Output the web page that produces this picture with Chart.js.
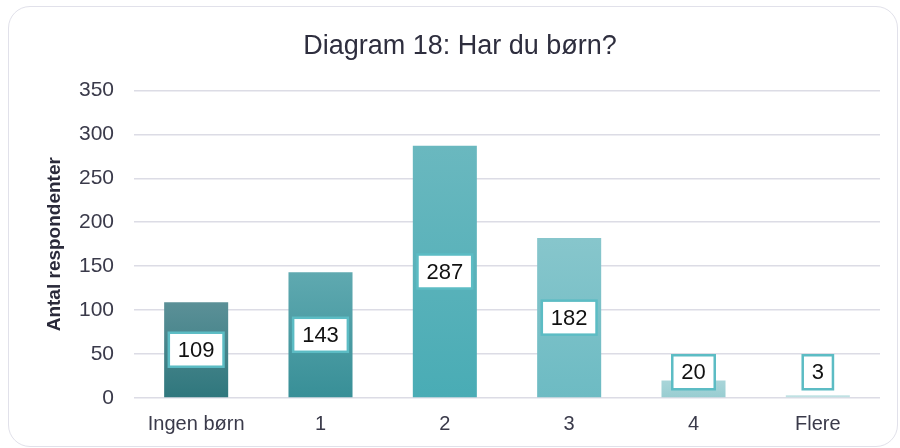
<!DOCTYPE html>
<html>
<head>
<meta charset="utf-8">
<script src="https://cdn.jsdelivr.net/npm/chart.js@4"></script>
<style>
  html, body { margin: 0; padding: 0; background: #ffffff; }
  #wrap { position: relative; width: 900px; height: 448px; overflow: hidden; }
  #card { position: absolute; left: 8px; top: 6px; width: 890px; height: 441px;
          border: 1.5px solid #e1e1ea; border-radius: 22px; box-sizing: border-box; }
  canvas { position: absolute; left: 0; top: 0; }
</style>
</head>
<body>
<div id="wrap">
  <div id="card"></div>
  <canvas id="c" width="900" height="448"></canvas>
</div>
<script>
const titleText = "Diagram 18: Har du børn?";
const axisTitle = "Antal respondenter";
const categories = ["Ingen børn", "1", "2", "3", "4", "Flere"];
const values = [109, 143, 287, 182, 20, 3];
const yTicks = [0, 50, 100, 150, 200, 250, 300, 350];
const colorsTop = ["#5b9097", "#5fa9b0", "#6ab8bf", "#87c6cc", "#a9d5d9", "#c4e3e5"];
const colorsBottom = ["#2f777d", "#388f97", "#49acb5", "#6dbbc3", "#98cdd1", "#b9dfe1"];

const labelPlugin = {
  id: "boxLabels",
  afterDatasetsDraw(chart) {
    const ctx = chart.ctx;
    const meta = chart.getDatasetMeta(0);
    ctx.save();
    ctx.font = "22px 'Liberation Sans', Arial, sans-serif";
    ctx.textAlign = "center";
    ctx.textBaseline = "middle";
    meta.data.forEach((el, i) => {
      const txt = String(values[i]);
      const center = (el.y + el.base) / 2;
      const y = Math.min(center, el.base - 25);
      const w = ctx.measureText(txt).width + 18;
      const h = 34;
      ctx.fillStyle = "#ffffff";
      ctx.fillRect(el.x - w / 2, y - h / 2, w, h);
      ctx.lineWidth = 2.5;
      ctx.strokeStyle = "#5cbcc4";
      ctx.strokeRect(el.x - w / 2, y - h / 2, w, h);
      ctx.fillStyle = "#111111";
      ctx.fillText(txt, el.x, y + 1);
    });
    ctx.restore();
  }
};

new Chart(document.getElementById("c"), {
  type: "bar",
  data: {
    labels: categories,
    datasets: [{
      data: values,
      backgroundColor: (c) => {
        const chart = c.chart;
        const i = c.dataIndex;
        if (!chart.chartArea || i === undefined) return colorsTop[i || 0];
        const ys = chart.scales.y;
        const top = ys.getPixelForValue(values[i]);
        const bot = ys.getPixelForValue(0);
        const g = chart.ctx.createLinearGradient(0, top, 0, bot + 0.01);
        g.addColorStop(0, colorsTop[i]);
        g.addColorStop(1, colorsBottom[i]);
        return g;
      },
      borderWidth: 0,
      barPercentage: 0.515,
      categoryPercentage: 1.0
    }]
  },
  options: {
    responsive: false,
    animation: false,
    devicePixelRatio: 1,
    layout: { padding: { left: 40, right: 20, top: 0, bottom: -2 } },
    plugins: {
      legend: { display: false },
      tooltip: { enabled: false },
      title: {
        display: true,
        text: titleText,
        color: "#2e2e3e",
        font: { family: "'Liberation Sans', Arial, sans-serif", size: 27, weight: "normal" },
        padding: { top: 30, bottom: 28 }
      }
    },
    scales: {
      x: {
        grid: { display: false, drawTicks: false },
        border: { display: false },
        ticks: {
          color: "#3a3a4a",
          padding: 14,
          font: { family: "'Liberation Sans', Arial, sans-serif", size: 20 }
        }
      },
      y: {
        min: 0,
        max: 350,
        afterFit: (s) => { s.width = 94; },
        afterBuildTicks: (s) => { s.ticks = yTicks.map(v => ({ value: v })); },
        grid: { color: "#dcdce5", lineWidth: 1.5, drawTicks: false },
        border: { display: false },
        ticks: {
          color: "#3a3a4a",
          padding: 20,
          font: { family: "'Liberation Sans', Arial, sans-serif", size: 21 }
        },
        title: {
          display: true,
          text: axisTitle,
          color: "#2a2a3a",
          padding: { top: 3, bottom: 0 },
          font: { family: "'Liberation Sans', Arial, sans-serif", size: 19, weight: "bold" }
        }
      }
    }
  },
  plugins: [labelPlugin]
});
</script>
</body>
</html>
